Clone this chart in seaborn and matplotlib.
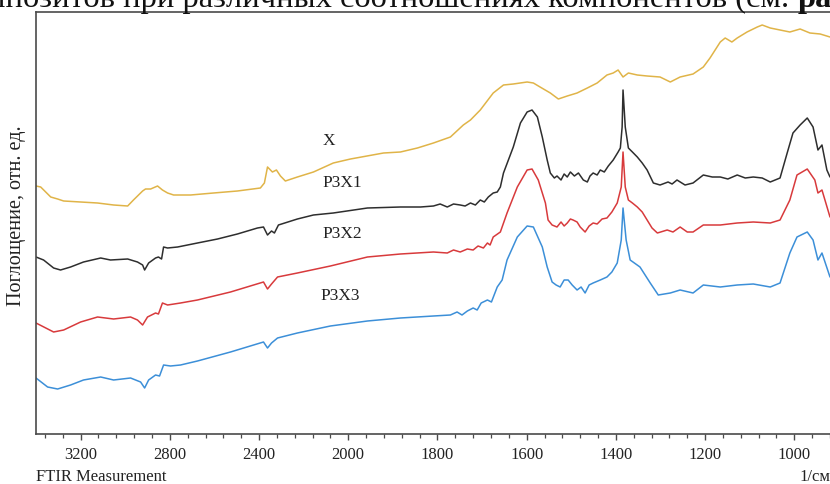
import numpy as np
import pandas as pd
import matplotlib
matplotlib.use("Agg")
import matplotlib.pyplot as plt
import seaborn as sns

# ---- FTIR spectra (wavenumber, cm^-1 / absorbance, arb. units, stacked) ----
x_wn = [3400, 3379, 3334, 3303, 3276, 3200, 3124, 3052, 2989, 2963, 2922, 2909, 2886,
        2855, 2833, 2810, 2783, 2707, 2604, 2497, 2394, 2376, 2362, 2340, 2322, 2304,
        2282, 2228, 2156, 2067, 1995, 1921, 1883, 1845, 1809, 1771, 1742, 1726, 1704,
        1675, 1652, 1630, 1599, 1585, 1570, 1547, 1529, 1509, 1487, 1464, 1442, 1420,
        1406, 1395, 1384, 1372, 1352, 1330, 1301, 1278, 1256, 1227, 1204, 1189, 1166,
        1155, 1140, 1128, 1106, 1083, 1072, 1054, 1032, 1010, 987, 965, 942, 920]
x_abs = [248, 247, 237, 235, 233, 232, 231, 229, 228, 234, 243, 245, 245,
         248, 244, 241, 239, 239, 241, 243, 246, 251, 267, 262, 264, 258,
         253, 257, 262, 271, 275, 281, 282, 286, 291, 297, 309, 314, 324,
         341, 349, 350, 352, 351, 347, 341, 335, 338, 341, 346, 351, 359,
         361, 364, 357, 361, 359, 358, 357, 352, 357, 360, 367, 376, 392,
         396, 392, 396, 402, 407, 409, 406, 404, 402, 405, 401, 400, 397]

p3x1_wn = [3400, 3366, 3321, 3290, 3245, 3187, 3110, 3066, 2989, 2945, 2922, 2913, 2895,
           2864, 2851, 2837, 2828, 2810, 2765, 2676, 2586, 2497, 2407, 2380, 2362, 2344,
           2331, 2313, 2228, 2156, 2067, 1957, 1883, 1838, 1809, 1794, 1778, 1764, 1749,
           1738, 1726, 1715, 1704, 1695, 1686, 1675, 1666, 1659, 1652, 1641, 1630, 1614,
           1599, 1588, 1576, 1565, 1554, 1547, 1538, 1532, 1523, 1516, 1509, 1502, 1493,
           1484, 1473, 1464, 1458, 1451, 1442, 1435, 1426, 1417, 1406, 1395, 1390, 1386,
           1384, 1379, 1372, 1363, 1352, 1341, 1330, 1316, 1301, 1283, 1274, 1263, 1245,
           1227, 1204, 1184, 1166, 1149, 1128, 1110, 1092, 1072, 1054, 1032, 1016, 1003,
           987, 971, 958, 947, 938, 927, 920]
p3x1_abs = [177, 174, 166, 164, 167, 172, 176, 174, 175, 172, 169, 164, 171,
            176, 177, 175, 187, 186, 187, 191, 195, 200, 206, 207, 199, 203,
            201, 209, 215, 219, 221, 226, 227, 227, 228, 230, 227, 230, 229,
            228, 231, 229, 234, 232, 237, 241, 242, 247, 261, 274, 287, 311,
            322, 324, 317, 297, 274, 261, 256, 258, 254, 260, 257, 262, 258,
            261, 254, 252, 258, 261, 259, 264, 262, 268, 274, 282, 286, 307,
            344, 307, 286, 282, 277, 271, 264, 251, 249, 252, 250, 254, 249,
            251, 259, 257, 257, 255, 259, 256, 257, 256, 252, 256, 281, 301,
            309, 316, 307, 284, 289, 264, 257]

p3x2_wn = [3400, 3321, 3276, 3200, 3124, 3052, 2976, 2945, 2922, 2900, 2864, 2851, 2833,
           2810, 2752, 2676, 2528, 2380, 2362, 2344, 2317, 2228, 2080, 1957, 1883, 1809,
           1778, 1764, 1749, 1733, 1720, 1709, 1697, 1688, 1682, 1675, 1659, 1644, 1621,
           1599, 1588, 1574, 1558, 1552, 1543, 1532, 1523, 1516, 1509, 1502, 1496, 1487,
           1480, 1469, 1460, 1451, 1442, 1431, 1420, 1409, 1397, 1388, 1384, 1379, 1372,
           1363, 1352, 1341, 1330, 1319, 1307, 1285, 1272, 1256, 1240, 1227, 1204, 1166,
           1128, 1092, 1054, 1032, 1010, 994, 971, 954, 947, 938, 920]
p3x2_abs = [111, 102, 104, 112, 117, 115, 117, 114, 109, 117, 121, 120, 131,
            129, 131, 134, 142, 152, 145, 150, 157, 161, 168, 177, 180, 182,
            181, 184, 182, 185, 184, 188, 186, 191, 189, 197, 202, 221, 247,
            264, 265, 254, 231, 214, 209, 207, 212, 208, 211, 215, 214, 212,
            207, 202, 208, 211, 210, 215, 216, 222, 231, 247, 282, 247, 234,
            231, 227, 222, 214, 206, 201, 204, 202, 207, 202, 202, 209, 209,
            211, 212, 211, 214, 234, 259, 265, 254, 241, 244, 217]

p3x3_wn = [3400, 3348, 3303, 3245, 3187, 3110, 3052, 2976, 2931, 2913, 2895, 2864, 2846,
           2828, 2797, 2752, 2676, 2528, 2380, 2362, 2344, 2317, 2228, 2080, 1957, 1883,
           1809, 1771, 1756, 1745, 1733, 1720, 1711, 1702, 1688, 1679, 1666, 1655, 1644,
           1621, 1599, 1585, 1565, 1554, 1543, 1534, 1525, 1516, 1507, 1498, 1487, 1478,
           1469, 1460, 1451, 1435, 1420, 1409, 1397, 1388, 1384, 1377, 1368, 1346, 1323,
           1305, 1278, 1256, 1227, 1204, 1166, 1128, 1092, 1054, 1032, 1010, 994, 971,
           958, 947, 938, 920]
p3x3_abs = [56, 47, 45, 49, 54, 57, 54, 56, 52, 46, 54, 59, 58,
            69, 68, 69, 73, 82, 92, 86, 91, 96, 101, 108, 113, 116,
            118, 119, 122, 119, 123, 126, 124, 131, 134, 132, 147, 154, 174,
            197, 208, 207, 187, 167, 152, 149, 147, 154, 154, 149, 144, 147,
            141, 149, 151, 154, 157, 162, 171, 194, 226, 194, 174, 167, 151,
            139, 141, 144, 141, 149, 147, 149, 150, 147, 151, 181, 197, 202,
            194, 174, 181, 157]

series_names = ["X", "P3X1", "P3X2", "P3X3"]
series_colors = ["#E0B448", "#2E2E2E", "#D83A3C", "#3C8FD8"]
series_wn = [x_wn, p3x1_wn, p3x2_wn, p3x3_wn]
series_abs = [x_abs, p3x1_abs, p3x2_abs, p3x3_abs]

major_ticks = [3200, 2800, 2400, 2000, 1800, 1600, 1400, 1200, 1000]

frames = []
for name, wn, ab in zip(series_names, series_wn, series_abs):
    frames.append(pd.DataFrame({"wn": wn, "abs": ab, "sample": name}))
df = pd.concat(frames, ignore_index=True)

sns.set_theme(style="white")
plt.rcParams["font.family"] = ["Liberation Serif", "DejaVu Serif"]

fig = plt.figure(figsize=(8.30, 4.84), dpi=100)
W, H = 830.0, 484.0
ax = fig.add_axes([36 / W, 50 / H, (830 - 36) / W, 422 / H])


# wavenumber axis: region above 2000 cm^-1 compressed two-fold
def fwd(x):
    x = np.asarray(x, dtype=float)
    return np.where(x > 2000, 2000 + (x - 2000) / 2.0, x)


def inv(t):
    t = np.asarray(t, dtype=float)
    return np.where(t > 2000, 2000 + (t - 2000) * 2.0, t)


ax.set_xscale("function", functions=(fwd, inv))

sns.lineplot(data=df, x="wn", y="abs", hue="sample", hue_order=series_names,
             palette=series_colors, estimator=None, sort=True, linewidth=1.1,
             legend=False, ax=ax)

ax.set_xlim(3400, 920)
ax.set_ylim(0, 422)

minor = [v for v in range(3360, 2000, -80) if v not in major_ticks]
minor += [v for v in range(1960, 919, -40) if v not in major_ticks]
ax.set_xticks(major_ticks)
ax.set_xticklabels([str(v) for v in major_ticks])
ax.set_xticks(minor, minor=True)
ax.set_yticks([])
ax.set_xlabel("")
ax.set_ylabel("")

for side in ["left", "bottom", "top"]:
    ax.spines[side].set_visible(True)
    ax.spines[side].set_color("#4a4a4a")
    ax.spines[side].set_linewidth(1.2)
ax.spines["right"].set_visible(False)

ax.tick_params(axis="x", which="major", direction="out", length=4.5, width=1.0,
               color="#4a4a4a", labelsize=12, pad=5, labelcolor="#222222", bottom=True)
ax.tick_params(axis="x", which="minor", direction="out", length=3, width=0.9,
               color="#4a4a4a", bottom=True)

# sample labels
label_pos = {"X": (2089, 293), "P3X1": (2026, 251), "P3X2": (2026, 200), "P3X3": (2035, 138)}
for name in series_names:
    lx, ly = label_pos[name]
    ax.text(lx, ly, name, ha="center", va="center", fontsize=12.5, color="#222222")

# axis captions
fig.text(17 / W, 1 - 216 / H, "Поглощение, отн. ед.", rotation=90, ha="center",
         va="center", fontsize=14.5, color="#222222")
fig.text(36 / W, 1 - 477 / H, "FTIR Measurement", ha="left", va="center",
         fontsize=12, color="#222222")
fig.text(830 / W, 1 - 477 / H, "1/см", ha="right", va="center",
         fontsize=12, color="#222222")

# caption line running above the figure
cap = fig.text(-45 / W, 1 - 6.5 / H, "композитов при различных соотношениях компонентов (см. ",
               ha="left", va="baseline", fontsize=23.4, color="#111111")
fig.canvas.draw()
bb = cap.get_window_extent(renderer=fig.canvas.get_renderer())
fig.text(bb.x1 / W, 1 - 6.5 / H, "раздел", ha="left", va="baseline", fontsize=23.4,
         fontweight="bold", color="#111111")

fig.savefig("out.png", dpi=100)
